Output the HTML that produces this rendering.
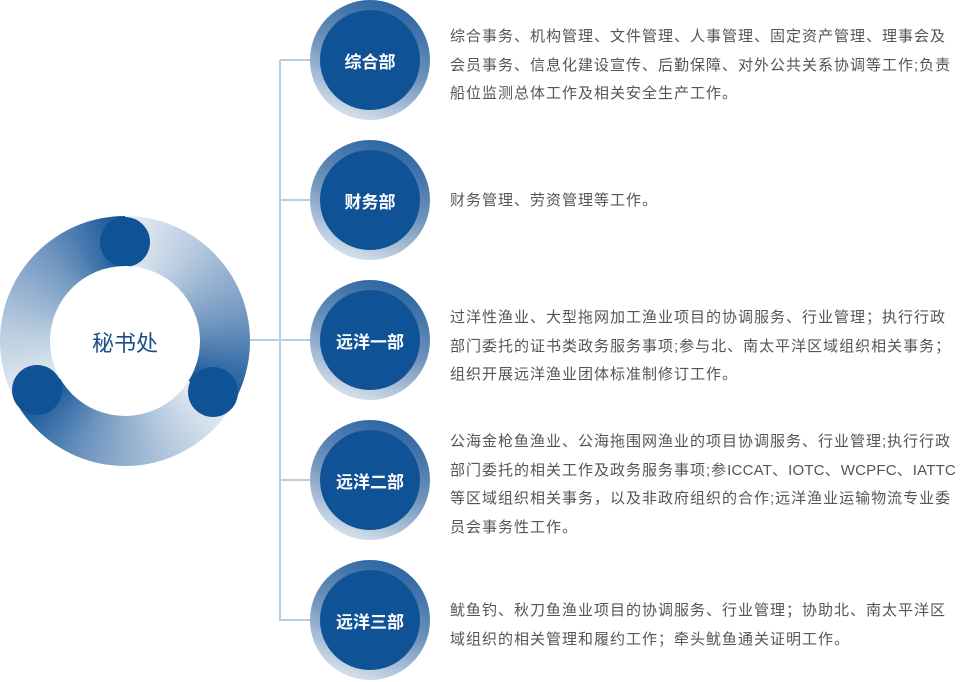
<!DOCTYPE html>
<html><head><meta charset="utf-8"><style>
html,body{margin:0;padding:0;background:#fff;}
body{width:960px;height:682px;position:relative;overflow:hidden;font-family:"Liberation Sans","Noto Sans CJK SC",sans-serif;}
.ring{position:absolute;left:0;top:216px;width:250px;height:250px;border-radius:50%;
background:conic-gradient(from 0deg,#e8eef5 0deg,#b9cce0 35deg,#6f95bf 80deg,#0f5296 122deg,#e8eef5 122deg,#b9cce0 155deg,#6f95bf 200deg,#0f5296 240deg,#e8eef5 240deg,#b9cce0 275deg,#6f95bf 320deg,#0f5296 360deg);}
.hole{position:absolute;left:50px;top:266px;width:150px;height:150px;border-radius:50%;background:#fff;}
.cap{position:absolute;width:50px;height:50px;border-radius:50%;background:#0f5296;}
.ct{position:absolute;left:50px;top:326px;width:150px;text-align:center;font-size:22px;color:#1a4f8a;}
.ln{position:absolute;background:#b7cde0;}
.halo{position:absolute;width:120px;height:120px;border-radius:50%;background:linear-gradient(200deg,#1a5a9c 0%,#6f93bb 50%,#f0f4f8 100%);}
.dot{position:absolute;width:100px;height:100px;border-radius:50%;background:#0f5296;color:#fff;font-weight:bold;font-size:17px;display:flex;align-items:center;justify-content:center;}
.tx{position:absolute;left:450px;font-size:15px;letter-spacing:1px;line-height:28.5px;color:#555;white-space:nowrap;}
.lt{letter-spacing:0.2px;}
</style></head><body>
<div class="ring"></div>
<div class="cap" style="left:100px;top:217px"></div>
<div class="cap" style="left:12px;top:365px"></div>
<div class="cap" style="left:188px;top:367px"></div>
<div class="hole"></div>
<div class="ct">秘书处</div>
<div class="ln" style="left:250px;top:339px;width:30px;height:2px"></div>
<div class="ln" style="left:279px;top:60px;width:2px;height:561px"></div>
<div class="ln" style="left:280px;top:59px;width:40px;height:2px"></div>
<div class="ln" style="left:280px;top:199px;width:40px;height:2px"></div>
<div class="ln" style="left:280px;top:339px;width:40px;height:2px"></div>
<div class="ln" style="left:280px;top:479px;width:40px;height:2px"></div>
<div class="ln" style="left:280px;top:619px;width:40px;height:2px"></div>

<div class="halo" style="left:310px;top:0px"></div><div class="dot" style="left:320px;top:10px">综合部</div>
<div class="halo" style="left:310px;top:140px"></div><div class="dot" style="left:320px;top:150px">财务部</div>
<div class="halo" style="left:310px;top:280px"></div><div class="dot" style="left:320px;top:290px">远洋一部</div>
<div class="halo" style="left:310px;top:420px"></div><div class="dot" style="left:320px;top:430px">远洋二部</div>
<div class="halo" style="left:310px;top:560px"></div><div class="dot" style="left:320px;top:570px">远洋三部</div>

<div class="tx" style="top:23px">综合事务、机构管理、文件管理、人事管理、固定资产管理、理事会及<br>会员事务、信息化建设宣传、后勤保障、对外公共关系协调等工作;负责<br>船位监测总体工作及相关安全生产工作。</div>
<div class="tx" style="top:187px">财务管理、劳资管理等工作。</div>
<div class="tx" style="top:304px">过洋性渔业、大型拖网加工渔业项目的协调服务、行业管理；执行行政<br>部门委托的证书类政务服务事项;参与北、南太平洋区域组织相关事务；<br>组织开展远洋渔业团体标准制修订工作。</div>
<div class="tx" style="top:428px">公海金枪鱼渔业、公海拖围网渔业的项目协调服务、行业管理;执行行政<br>部门委托的相关工作及政务服务事项;参<span class="lt">ICCAT</span>、<span class="lt">IOTC</span>、<span class="lt">WCPFC</span>、<span class="lt">IATTC</span><br>等区域组织相关事务，以及非政府组织的合作;远洋渔业运输物流专业委<br>员会事务性工作。</div>
<div class="tx" style="top:597px">鱿鱼钓、秋刀鱼渔业项目的协调服务、行业管理；协助北、南太平洋区<br>域组织的相关管理和履约工作；牵头鱿鱼通关证明工作。</div>
</body></html>
